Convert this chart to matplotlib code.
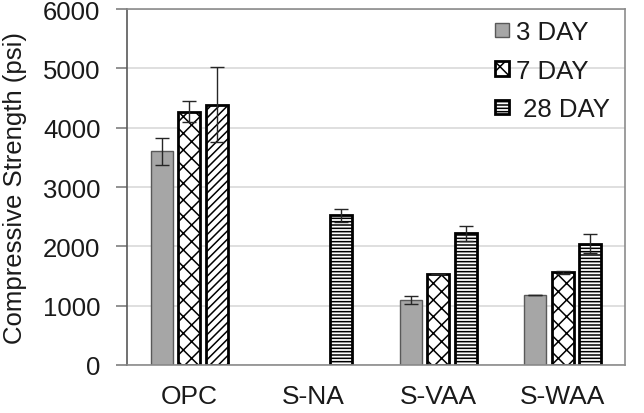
import matplotlib
matplotlib.use("Agg")
import matplotlib.pyplot as plt
from matplotlib.patches import Patch
import numpy as np

categories = ["OPC", "S-NA", "S-VAA", "S-WAA"]
series_labels = ["3 DAY", "7 DAY", " 28 DAY"]
day3 = [3600, 0, 1090, 1180]
day3_err = [230, 0, 70, 0]
day7 = [4270, 0, 1530, 1560]
day7_err = [175, 0, 0, 20]
day28 = [4390, 2520, 2220, 2040]
day28_err = [630, 110, 130, 160]
yticks = [0, 1000, 2000, 3000, 4000, 5000, 6000]

plt.rcParams['font.family'] = ['Liberation Sans', 'DejaVu Sans']
plt.rcParams['hatch.linewidth'] = 1.1

fig = plt.figure(figsize=(6.44, 4.14), dpi=100)
ax = fig.add_axes([127/644, 1-366/414, 498/644, 356/414])

x = np.arange(len(categories))
w = 0.177
off = 0.221

styles = [
    dict(color='#a6a6a6', edgecolor='#595959', linewidth=1.0, hatch=None),
    dict(color='white', edgecolor='black', linewidth=2.0, hatch='xx'),
    dict(color='white', edgecolor='black', linewidth=2.0, hatch='-----'),
]
series = [(day3, day3_err), (day7, day7_err), (day28, day28_err)]
offsets = [-off, 0, off]

for k, ((vals, errs), st, o) in enumerate(zip(series, styles, offsets)):
    vals = np.array(vals, dtype=float)
    errs = np.array(errs, dtype=float)
    show = vals > 0
    bars = ax.bar(x[show] + o, vals[show], w, zorder=2, **st)
    if k == 2 and show[0]:
        bars.patches[0].set_hatch('////')  # OPC 28-day bar uses diagonal hatch in the original
    ax.errorbar(x[show] + o, vals[show], yerr=errs[show], fmt='none', ecolor='#262626',
                elinewidth=1.0, capsize=5, capthick=1.0, zorder=3)

ax.set_xlim(-0.5, len(categories) - 0.5)
ax.set_ylim(0, 6000)
ax.set_yticks(yticks)
ax.set_xticks(x)
ax.set_xticklabels(categories, fontsize=19, color='#1a1a1a')
ax.tick_params(axis='x', length=0, pad=14)
ax.tick_params(axis='y', length=8, width=1.2, color='#7f7f7f', pad=11, labelsize=18.5, labelcolor='#1a1a1a')
ax.yaxis.grid(True, color='#d9d9d9', linewidth=1.2)
ax.set_axisbelow(True)
for s in ax.spines.values():
    s.set_color('#8c8c8c')
    s.set_linewidth(1.2)
ax.spines['left'].set_color('#595959')

ax.set_ylabel("Compressive Strength (psi)", fontsize=18.5, color='#1a1a1a')
ax.yaxis.set_label_coords(-0.201, 0.5)

handles = [Patch(facecolor=st['color'], edgecolor=st['edgecolor'], linewidth=st['linewidth'],
                 hatch=st['hatch'], label=lab) for st, lab in zip(styles, series_labels)]
leg = ax.legend(handles=handles, loc='upper left', bbox_to_anchor=((495-127)/498, 1-11/356), frameon=False,
                fontsize=18.5, handlelength=0.55, handleheight=0.5, handletextpad=0.25,
                labelspacing=0.57, borderpad=0, borderaxespad=0)
for t in leg.get_texts():
    t.set_color('#1a1a1a')

fig.savefig("out.png", dpi=100)
